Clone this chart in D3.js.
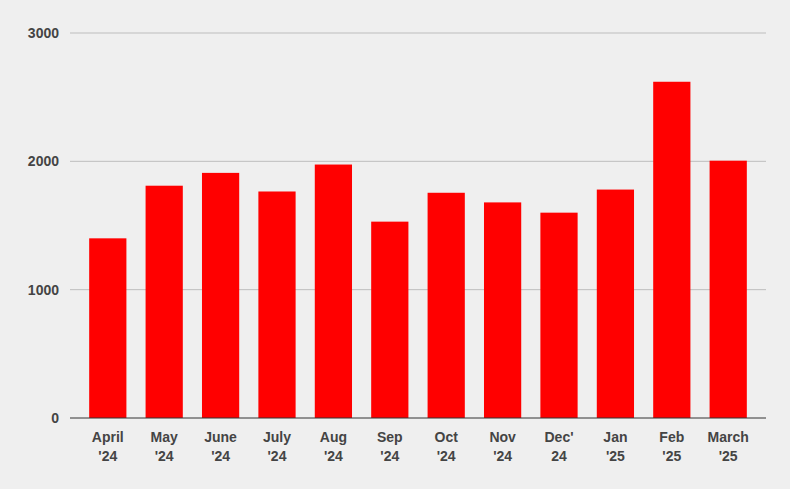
<!DOCTYPE html>
<html>
<head>
<meta charset="UTF-8">
<script src="https://d3js.org/d3.v7.min.js"></script>
<style>
  body { margin: 0; background: #efefef; }
  svg { display: block; font-family: "Liberation Sans", Arial, sans-serif; }
</style>
</head>
<body>
<svg id="chart" width="790" height="489"></svg>
<script>
// 数据
const months = ["April\n'24", "May\n'24", "June\n'24", "July\n'24", "Aug\n'24", "Sep\n'24",
                "Oct\n'24", "Nov\n'24", "Dec'\n24", "Jan\n'25", "Feb\n'25", "March\n'25"];
const values = [1400, 1810, 1910, 1765, 1975, 1530, 1755, 1680, 1600, 1780, 2620, 2005];
const yTicks = [0, 1000, 2000, 3000];

const svg = d3.select("#chart");
svg.append("rect").attr("width", 790).attr("height", 489).attr("fill", "#efefef");

const x = d3.scaleBand().domain(months).range([70, 766]).padding(0.34);
const y = d3.scaleLinear().domain([0, 3000]).range([418, 33]);

// 网格线
svg.append("g").selectAll("line").data(yTicks.filter(d => d > 0)).enter()
  .append("line")
  .attr("x1", 70).attr("x2", 766)
  .attr("y1", d => y(d)).attr("y2", d => y(d))
  .attr("stroke", "#bdbdbd").attr("stroke-width", 1);

// y 轴标签
svg.append("g").selectAll("text").data(yTicks).enter()
  .append("text")
  .attr("x", 59).attr("y", d => y(d) + 5)
  .attr("text-anchor", "end")
  .attr("font-size", 14).attr("font-weight", "bold").attr("fill", "#444")
  .text(d => d);

// 柱子
svg.append("g").selectAll("rect").data(values).enter()
  .append("rect")
  .attr("x", (d, i) => x(months[i]))
  .attr("y", d => y(d))
  .attr("width", x.bandwidth())
  .attr("height", d => y(0) - y(d))
  .attr("fill", "#ff0000");

// 基线
svg.append("line").attr("x1", 70).attr("x2", 766)
  .attr("y1", y(0)).attr("y2", y(0)).attr("stroke", "#333").attr("stroke-width", 1);

// x 轴标签
const xl = svg.append("g").selectAll("text").data(months).enter()
  .append("text")
  .attr("text-anchor", "middle")
  .attr("font-size", 14).attr("font-weight", "bold").attr("fill", "#444");
xl.each(function (d) {
  const cx = x(d) + x.bandwidth() / 2;
  d.split("\n").forEach((line, k) => {
    d3.select(this).append("tspan").attr("x", cx).attr("y", 442 + k * 19).text(line);
  });
});
</script>
</body>
</html>
